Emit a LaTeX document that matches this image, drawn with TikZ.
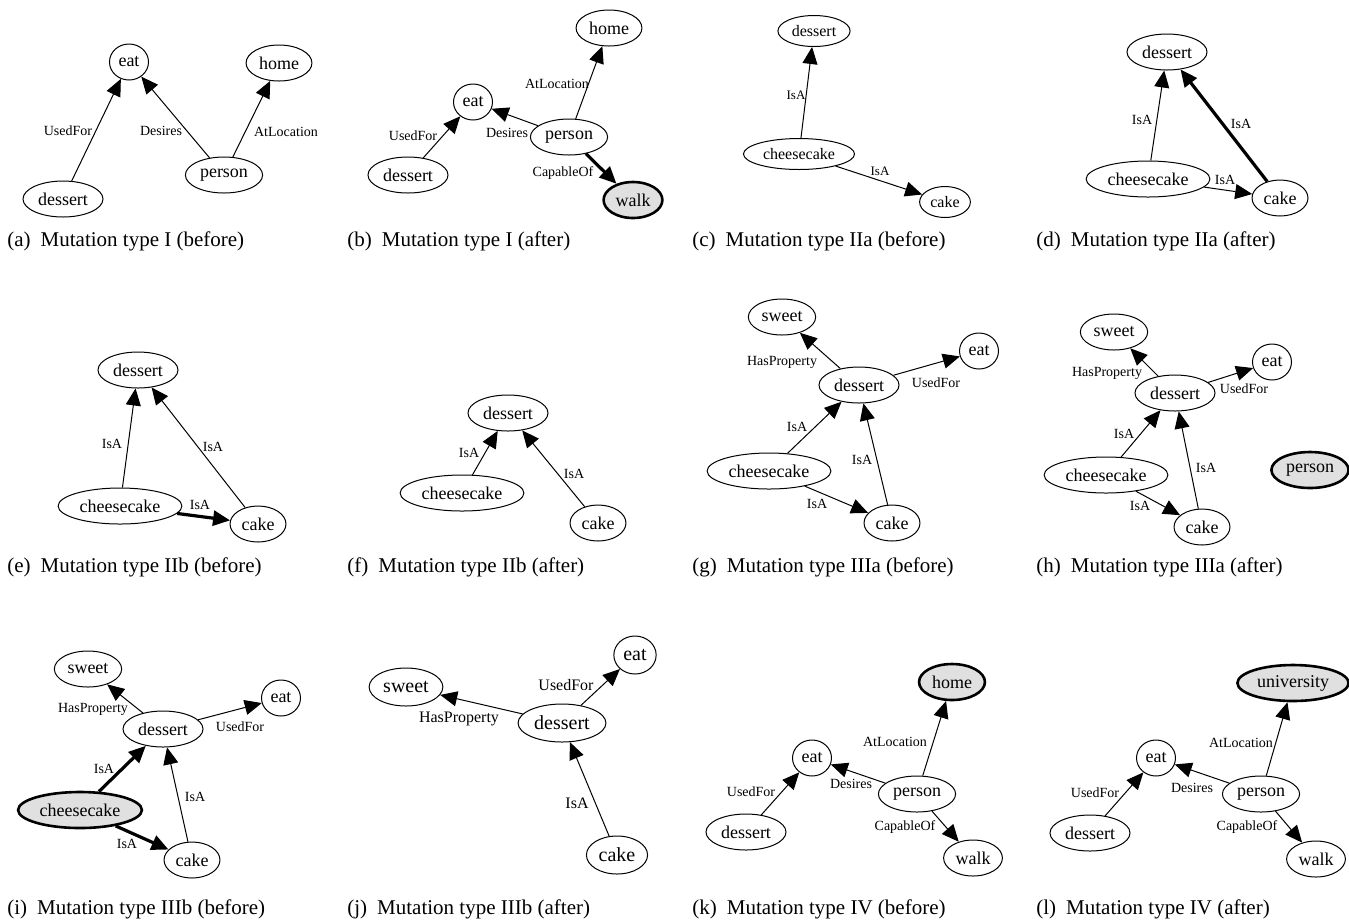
\documentclass[tikz,border=0pt]{standalone}
\usepackage{fontspec}
\setmainfont{Liberation Serif}
\usepackage{tikz}
\usetikzlibrary{arrows.meta}
\usetikzlibrary{shapes.geometric}

\begin{document}
\begin{tikzpicture}[
	x=0.5pt, y=-0.5pt,
	concept/.style={
		ellipse,draw,
		line width=0.5pt,
		font=\fontsize{9}{10}\selectfont,
		minimum height=18pt,
		minimum width=19pt,
		inner xsep=1.65pt, inner ysep=0pt,
	},
	mutated/.style={concept,fill=black!12,line width=1.3pt},
	smallgraph/.style={font=\fontsize{8}{9}\selectfont,minimum height=15.5pt},
	biggraph/.style={font=\fontsize{10}{11}\selectfont,minimum height=19pt},
	rel/.style={-{Triangle[length=8.5pt,width=7.5pt]},line width=0.5pt},
	newrel/.style={rel,line width=1.6pt},
	rellabel/.style={font=\fontsize{7}{8}\selectfont,inner sep=0pt},
	subcap/.style={anchor=west,font=\fontsize{10.5}{12}\selectfont,inner sep=0pt}
]
\useasboundingbox (0,0) rectangle (1349,923);

\node [concept] (a-eat) at (129,62) {eat};
\node [concept] (a-home) at (279,63) {home};
\node [concept] (a-person) at (224,175) {person};
\node [concept] (a-dessert) at (63,199) {dessert};
\draw [rel] (a-dessert) -- (a-eat) node [rellabel] (a-usedfor) at (68,131) {UsedFor};
\draw [rel] (a-person) -- (a-eat) node [rellabel] (a-desires) at (161,131) {Desires};
\draw [rel] (a-person) -- (a-home) node [rellabel] (a-atlocation) at (286,132) {AtLocation};
\node [subcap] (a-cap) at (7,241) {(a)\hspace{5pt}Mutation type I (before)};

\node [concept] (b-home) at (609,28) {home};
\node [concept] (b-eat) at (473,102) {eat};
\node [concept] (b-person) at (569,137) {person};
\node [concept] (b-dessert) at (408,175) {dessert};
\node [mutated] (b-walk) at (633,200) {walk};
\draw [rel] (b-person) -- (b-home) node [rellabel] (b-atlocation) at (557,84) {AtLocation};
\draw [rel] (b-dessert) -- (b-eat) node [rellabel] (b-usedfor) at (413,136) {UsedFor};
\draw [rel] (b-person) -- (b-eat) node [rellabel] (b-desires) at (507,133) {Desires};
\draw [newrel] (b-person) -- (b-walk) node [rellabel] (b-capableof) at (563,173) {CapableOf};
\node [subcap] (b-cap) at (347,241) {(b)\hspace{5pt}Mutation type I (after)};

\node [concept,smallgraph] (c-dessert) at (814,31) {dessert};
\node [concept,smallgraph] (c-cheesecake) at (799,154) {cheesecake};
\node [concept,smallgraph] (c-cake) at (945,202) {cake};
\draw [rel] (c-cheesecake) -- (c-dessert) node [rellabel,font=\fontsize{6.5}{7}\selectfont] (c-isa1) at (796,95) {IsA};
\draw [rel] (c-cheesecake) -- (c-cake) node [rellabel,font=\fontsize{6.5}{7}\selectfont] (c-isa2) at (880,171) {IsA};
\node [subcap] (c-cap) at (692,241) {(c)\hspace{5pt}Mutation type IIa (before)};

\node [concept] (d-dessert) at (1167,52) {dessert};
\node [concept] (d-cheesecake) at (1148,179) {cheesecake};
\node [concept] (d-cake) at (1280,198) {cake};
\draw [rel] (d-cheesecake) -- (d-dessert) node [rellabel] (d-isa1) at (1142,120) {IsA};
\draw [newrel] (d-cake) -- (d-dessert) node [rellabel] (d-isa2) at (1241,124) {IsA};
\draw [rel] (d-cheesecake) -- (d-cake) node [rellabel] (d-isa3) at (1225,180) {IsA};
\node [subcap] (d-cap) at (1036,241) {(d)\hspace{5pt}Mutation type IIa (after)};

\node [concept] (e-dessert) at (138,370) {dessert};
\node [concept] (e-cheesecake) at (120,506) {cheesecake};
\node [concept] (e-cake) at (258,524) {cake};
\draw [rel] (e-cheesecake) -- (e-dessert) node [rellabel] (e-isa1) at (112,444) {IsA};
\draw [rel] (e-cake) -- (e-dessert) node [rellabel] (e-isa2) at (213,447) {IsA};
\draw [newrel] (e-cheesecake) -- (e-cake) node [rellabel] (e-isa3) at (200,505) {IsA};
\node [subcap] (e-cap) at (7,567) {(e)\hspace{5pt}Mutation type IIb (before)};

\node [concept] (f-dessert) at (508,413) {dessert};
\node [concept] (f-cheesecake) at (462,493) {cheesecake};
\node [concept] (f-cake) at (598,523) {cake};
\draw [rel] (f-cheesecake) -- (f-dessert) node [rellabel] (f-isa1) at (469,453) {IsA};
\draw [rel] (f-cake) -- (f-dessert) node [rellabel] (f-isa2) at (574,474) {IsA};
\node [subcap] (f-cap) at (347,567) {(f)\hspace{5pt}Mutation type IIb (after)};

\node [concept] (g-sweet) at (782,317) {sweet};
\node [concept] (g-eat) at (979,351) {eat};
\node [concept] (g-dessert) at (859,385) {dessert};
\node [concept] (g-cheesecake) at (769,471) {cheesecake};
\node [concept] (g-cake) at (892,523) {cake};
\draw [rel] (g-dessert) -- (g-sweet) node [rellabel] (g-hasproperty) at (782,362) {HasProperty};
\draw [rel] (g-dessert) -- (g-eat) node [rellabel] (g-usedfor) at (936,383) {UsedFor};
\draw [rel] (g-cheesecake) -- (g-dessert) node [rellabel] (g-isa1) at (797,427) {IsA};
\draw [rel] (g-cake) -- (g-dessert) node [rellabel] (g-isa2) at (862,460) {IsA};
\draw [rel] (g-cheesecake) -- (g-cake) node [rellabel] (g-isa3) at (817,504) {IsA};
\node [subcap] (g-cap) at (692,567) {(g)\hspace{5pt}Mutation type IIIa (before)};

\node [concept] (h-sweet) at (1114,332) {sweet};
\node [concept] (h-eat) at (1272,362) {eat};
\node [concept] (h-dessert) at (1175,393) {dessert};
\node [concept] (h-cheesecake) at (1106,475) {cheesecake};
\node [concept] (h-cake) at (1202,527) {cake};
\node [mutated] (h-person) at (1310,470) {person};
\draw [rel] (h-dessert) -- (h-sweet) node [rellabel] (h-hasproperty) at (1107,373) {HasProperty};
\draw [rel] (h-dessert) -- (h-eat) node [rellabel] (h-usedfor) at (1244,389) {UsedFor};
\draw [rel] (h-cheesecake) -- (h-dessert) node [rellabel] (h-isa1) at (1124,434) {IsA};
\draw [rel] (h-cake) -- (h-dessert) node [rellabel] (h-isa2) at (1206,468) {IsA};
\draw [rel] (h-cheesecake) -- (h-cake) node [rellabel] (h-isa3) at (1140,506) {IsA};
\node [subcap] (h-cap) at (1036,567) {(h)\hspace{5pt}Mutation type IIIa (after)};

\node [concept] (i-sweet) at (88,669) {sweet};
\node [concept] (i-eat) at (281,698) {eat};
\node [concept] (i-dessert) at (163,729) {dessert};
\node [mutated] (i-cheesecake) at (80,810) {cheesecake};
\node [concept] (i-cake) at (192,860) {cake};
\draw [rel] (i-dessert) -- (i-sweet) node [rellabel] (i-hasproperty) at (93,709) {HasProperty};
\draw [rel] (i-dessert) -- (i-eat) node [rellabel] (i-usedfor) at (240,727) {UsedFor};
\draw [newrel] (i-cheesecake) -- (i-dessert) node [rellabel] (i-isa1) at (104,769) {IsA};
\draw [rel] (i-cake) -- (i-dessert) node [rellabel] (i-isa2) at (195,797) {IsA};
\draw [newrel] (i-cheesecake) -- (i-cake) node [rellabel] (i-isa3) at (127,844) {IsA};
\node [subcap] (i-cap) at (7,909) {(i)\hspace{5pt}Mutation type IIIb (before)};

\node [concept,biggraph] (j-eat) at (635,655) {eat};
\node [concept,biggraph] (j-sweet) at (406,687) {sweet};
\node [concept,biggraph] (j-dessert) at (562,723) {dessert};
\node [concept,biggraph] (j-cake) at (617,855) {cake};
\draw [rel] (j-dessert) -- (j-eat) node [rellabel,font=\fontsize{8}{9}\selectfont] (j-usedfor) at (566,685) {UsedFor};
\draw [rel] (j-dessert) -- (j-sweet) node [rellabel,font=\fontsize{8}{9}\selectfont] (j-hasproperty) at (459,719) {HasProperty};
\draw [rel] (j-cake) -- (j-dessert) node [rellabel,font=\fontsize{8}{9}\selectfont] (j-isa) at (577,803) {IsA};
\node [subcap] (j-cap) at (347,909) {(j)\hspace{5pt}Mutation type IIIb (after)};

\node [mutated] (k-home) at (952,682) {home};
\node [concept] (k-eat) at (812,758) {eat};
\node [concept] (k-person) at (917,794) {person};
\node [concept] (k-dessert) at (746,832) {dessert};
\node [concept] (k-walk) at (973,858) {walk};
\draw [rel] (k-person) -- (k-home) node [rellabel] (k-atlocation) at (895,742) {AtLocation};
\draw [rel] (k-dessert) -- (k-eat) node [rellabel] (k-usedfor) at (751,792) {UsedFor};
\draw [rel] (k-person) -- (k-eat) node [rellabel] (k-desires) at (851,784) {Desires};
\draw [rel] (k-person) -- (k-walk) node [rellabel] (k-capableof) at (905,827) {CapableOf};
\node [subcap] (k-cap) at (692,909) {(k)\hspace{5pt}Mutation type IV (before)};

\node [mutated] (l-university) at (1293,683) {university};
\node [concept] (l-eat) at (1156,758) {eat};
\node [concept] (l-person) at (1261,794) {person};
\node [concept] (l-dessert) at (1090,833) {dessert};
\node [concept] (l-walk) at (1316,859) {walk};
\draw [rel] (l-person) -- (l-university) node [rellabel] (l-atlocation) at (1241,743) {AtLocation};
\draw [rel] (l-dessert) -- (l-eat) node [rellabel] (l-usedfor) at (1095,793) {UsedFor};
\draw [rel] (l-person) -- (l-eat) node [rellabel] (l-desires) at (1192,788) {Desires};
\draw [rel] (l-person) -- (l-walk) node [rellabel] (l-capableof) at (1247,827) {CapableOf};
\node [subcap] (l-cap) at (1036,909) {(l)\hspace{5pt}Mutation type IV (after)};
\end{tikzpicture}
\end{document}
